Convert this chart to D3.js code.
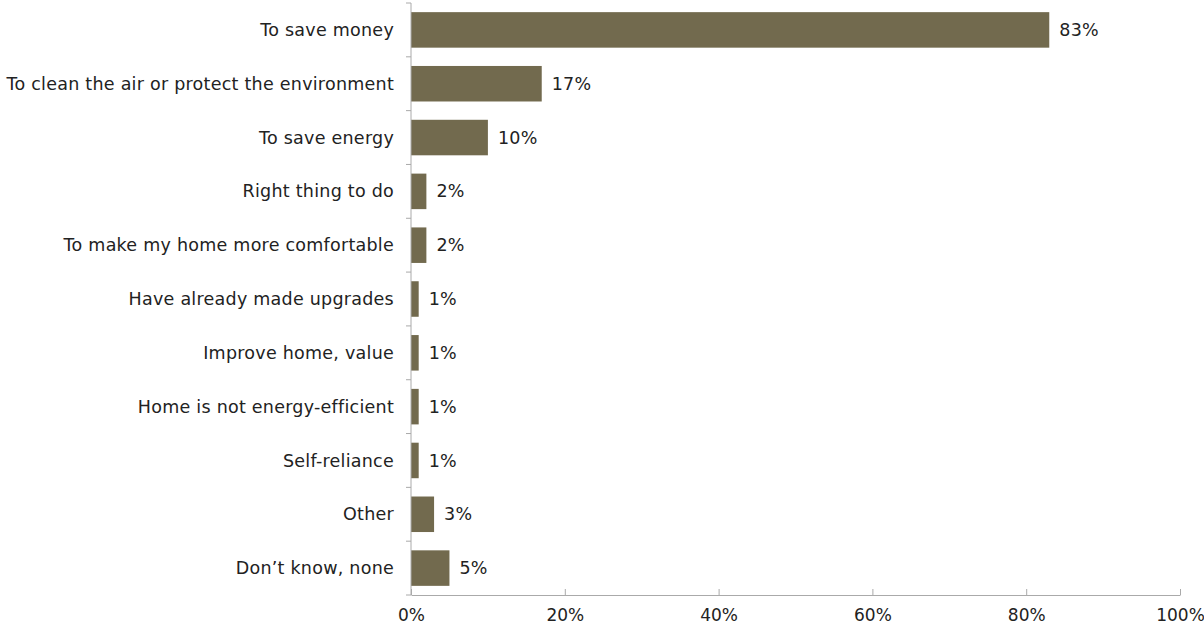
<!DOCTYPE html>
<html>
<head>
<meta charset="utf-8">
<script src="https://cdn.jsdelivr.net/npm/d3@7"></script>
<style>
  body { margin: 0; background: #fff; }
  text { font-family: "DejaVu Sans", sans-serif; fill: #222; letter-spacing: 0.25px; }
</style>
</head>
<body>
<div id="chart"></div>
<script>
// categories and values
const reasons = [
  "To save money",
  "To clean the air or protect the environment",
  "To save energy",
  "Right thing to do",
  "To make my home more comfortable",
  "Have already made upgrades",
  "Improve home, value",
  "Home is not energy-efficient",
  "Self-reliance",
  "Other",
  "Don’t know, none"
]
const shares = [83, 17, 10, 2, 2, 1, 1, 1, 1, 3, 5]
const xTicks = [0, 20, 40, 60, 80, 100]

const width = 1204, height = 629
const margin = {top: 3, right: 24, bottom: 34, left: 411}
const fontSize = "17.5px"

const svg = d3.select("#chart").append("svg")
    .attr("width", width)
    .attr("height", height)

const x = d3.scaleLinear()
    .domain([0, 100])
    .range([margin.left, width - margin.right])

const y = d3.scaleBand()
    .domain(reasons)
    .range([margin.top, height - margin.bottom])
    .paddingInner(0.34)
    .paddingOuter(0.17)

const data = reasons.map((r, i) => ({reason: r, value: shares[i]}))

// bars
svg.selectAll(".bar")
  .data(data)
  .join("rect")
    .attr("class", "bar")
    .attr("x", x(0))
    .attr("y", d => y(d.reason))
    .attr("width", d => x(d.value) - x(0))
    .attr("height", y.bandwidth())
    .attr("fill", "#726a4e")

// value labels
svg.selectAll(".val")
  .data(data)
  .join("text")
    .attr("class", "val")
    .attr("x", d => x(d.value) + 10)
    .attr("y", d => y(d.reason) + y.bandwidth() / 2)
    .attr("dy", "0.35em")
    .style("font-size", fontSize)
    .text(d => d.value + "%")

// x axis
const xAxis = svg.append("g")
    .attr("transform", `translate(0,${height - margin.bottom})`)
    .call(d3.axisBottom(x).tickValues(xTicks).tickFormat(d => d + "%").tickSize(6).tickSizeOuter(0))
xAxis.select(".domain").attr("stroke", "#aaa")
xAxis.selectAll(".tick line").attr("stroke", "#aaa").attr("y1", 0).attr("y2", -6)
xAxis.selectAll(".tick text")
    .attr("y", 14)
    .attr("dy", "0.71em")
    .style("font-size", "17px")
    .style("letter-spacing", "0px")
    .style("font-family", "'DejaVu Sans', sans-serif")
    .attr("fill", "#222")

// y axis: line plus ticks at the band borders
const yAxis = svg.append("g")
yAxis.append("line")
    .attr("x1", x(0)).attr("x2", x(0))
    .attr("y1", margin.top).attr("y2", height - margin.bottom)
    .attr("stroke", "#aaa")
const borders = reasons.map(r => y(r) - y.step() * y.paddingInner() / 2)
borders.push(height - margin.bottom)
borders[0] = margin.top
yAxis.selectAll(".sep")
  .data(borders)
  .join("line")
    .attr("class", "sep")
    .attr("x1", x(0) - 5).attr("x2", x(0))
    .attr("y1", d => d).attr("y2", d => d)
    .attr("stroke", "#aaa")

// category labels
svg.selectAll(".cat")
  .data(reasons)
  .join("text")
    .attr("class", "cat")
    .attr("x", x(0) - 17)
    .attr("y", d => y(d) + y.bandwidth() / 2)
    .attr("dy", "0.35em")
    .attr("text-anchor", "end")
    .style("font-size", fontSize)
    .text(d => d)
</script>
</body>
</html>
